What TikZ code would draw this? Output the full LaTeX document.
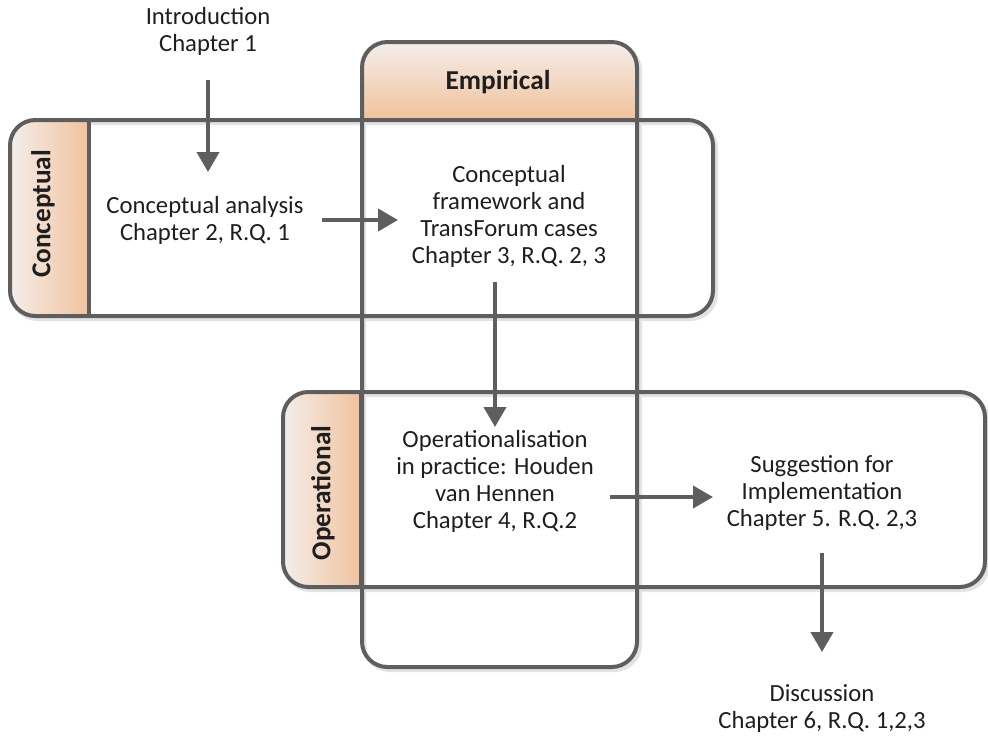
\documentclass[tikz,border=0pt]{standalone}
\usepackage{fontspec}
\setmainfont{Carlito}
\usetikzlibrary{arrows.meta}
\definecolor{edge}{HTML}{5E5E5E}
\definecolor{halo}{HTML}{E3E3E3}
\definecolor{ink}{HTML}{1E1E1E}
\definecolor{paletop}{HTML}{F3EEEA}
\definecolor{peach}{HTML}{F2C29C}
\tikzset{
  frame/.style={draw=edge, line width=3pt, rounded corners=19pt},
  haloframe/.style={draw=halo, line width=3pt, rounded corners=19pt},
  txt/.style={align=center, text=ink, inner sep=0pt,
    font=\fontsize{18.5pt}{20.25pt}\selectfont},
  tablabel/.style={text=ink, inner sep=0pt,
    font=\fontsize{20.5pt}{24pt}\selectfont\bfseries},
  arr/.style={draw=edge, line width=3pt,
    -{Triangle[length=15pt,width=16.5pt]}}
}
\begin{document}
\begin{tikzpicture}[x=0.75pt,y=-0.75pt]
\useasboundingbox (0,0) rectangle (988,740);

% soft halo below the frames
\draw[haloframe] (364,45) rectangle (640,670);
\draw[haloframe] (12,123) rectangle (716,319);
\draw[haloframe] (285,395) rectangle (988,590);

% header of the Empirical column
\begin{scope}
  \clip[rounded corners=19pt] (362,42) rectangle (637,667);
  \shade[top color=paletop, bottom color=peach] (362,42) rectangle (637,119);
\end{scope}
% tab of the Conceptual row
\begin{scope}
  \clip[rounded corners=19pt] (10,120) rectangle (713,316);
  \shade[left color=paletop, right color=peach] (10,120) rectangle (89,316);
\end{scope}
% tab of the Operational row
\begin{scope}
  \clip[rounded corners=19pt] (283,392) rectangle (985,587);
  \shade[left color=paletop, right color=peach] (283,392) rectangle (361,587);
\end{scope}

% frames
\draw[frame] (362,42) rectangle (637,667);
\draw[frame] (10,120) rectangle (713,316);
\draw[frame] (283,392) rectangle (985,587);
\draw[draw=edge, line width=3pt] (89,120) -- (89,316);
\draw[draw=edge, line width=3pt] (361,392) -- (361,587);

% headings
\node[tablabel] (emp) at (498,82) {Empirical};
\node[tablabel, rotate=90] (conc) at (43,214) {Conceptual};
\node[tablabel, rotate=90] (oper) at (323,493) {Operational};

% step texts
\node[txt] (intro) at (208,31) {Introduction\\Chapter 1};
\node[txt] (ca) at (205,220) {Conceptual analysis\\Chapter 2, R.Q. 1};
\node[txt] (cf) at (509,216) {Conceptual\\framework and\\TransForum cases\\Chapter 3, R.Q. 2, 3};
\node[txt] (op) at (495,481) {Operationalisation\\in practice: Houden\\van Hennen\\Chapter 4, R.Q.2};
\node[txt] (sug) at (822,493) {Suggestion for\\Implementation\\Chapter 5. R.Q. 2,3};
\node[txt] (disc) at (822,708) {Discussion\\Chapter 6, R.Q. 1,2,3};

% connectors
\draw[arr, shorten <=36.75pt, shorten >=36pt] (intro.center) -- (intro.center |- ca.center);
\draw[arr, shorten <=87.75pt, shorten >=83.25pt] (ca.center) -- (ca.center -| cf.center);
\draw[arr, shorten <=49.5pt, shorten >=40.5pt] (op.center |- cf.center) -- (op.center);
\draw[arr, shorten <=86.25pt, shorten >=81.75pt] ([yshift=-12pt]op.center) -- ([yshift=-3pt]sug.center);
\draw[arr, shorten <=45pt, shorten >=42pt] (sug.center) -- (disc.center);
\end{tikzpicture}
\end{document}
